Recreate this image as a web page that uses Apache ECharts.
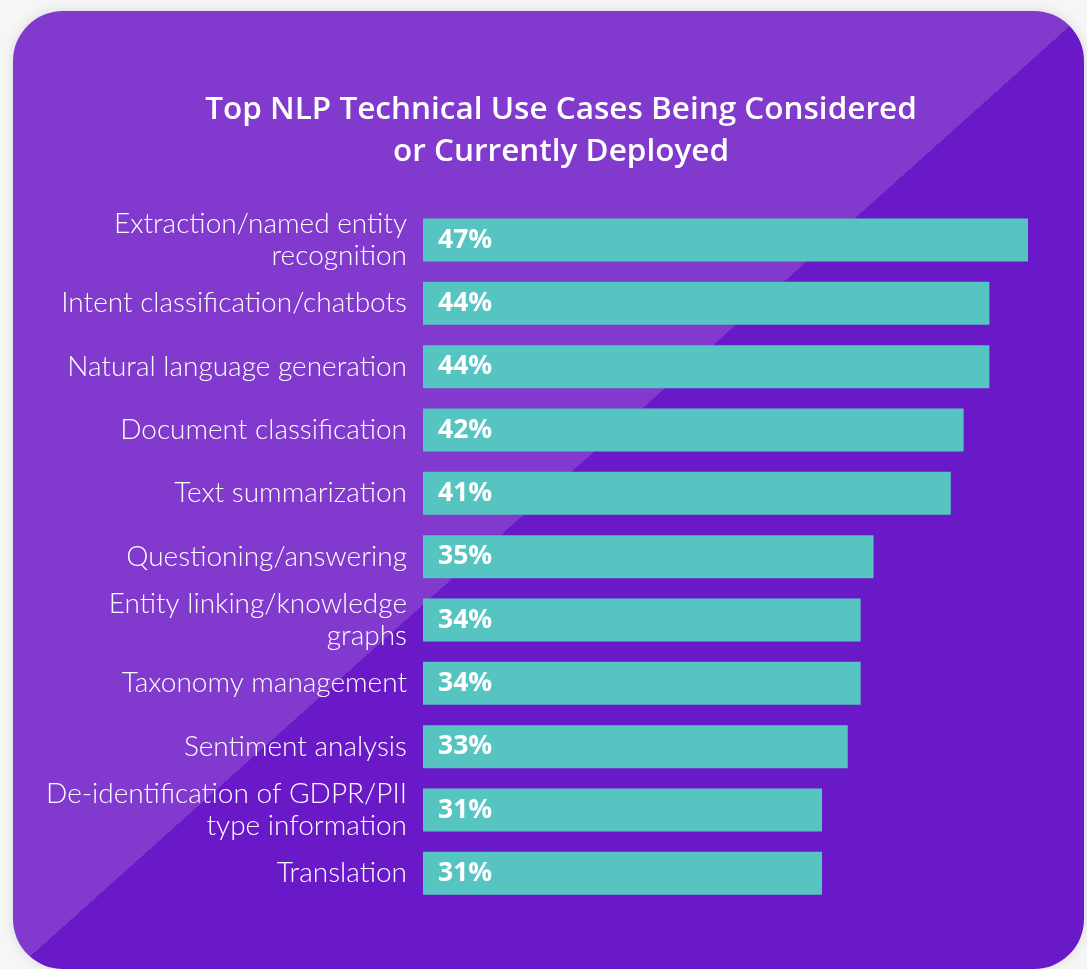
<!DOCTYPE html>
<html><head><meta charset="utf-8">
<script src="https://cdn.jsdelivr.net/npm/echarts@6/dist/echarts.min.js"></script>
<style>html,body{margin:0;padding:0;background:#f6f6f6;}#c{width:1087px;height:969px;}</style>
</head><body><div id="c"></div>
<script>
const categories = [
  "Extraction/named entity\nrecognition",
  "Intent classification/chatbots",
  "Natural language generation",
  "Document classification",
  "Text summarization",
  "Questioning/answering",
  "Entity linking/knowledge\ngraphs",
  "Taxonomy management",
  "Sentiment analysis",
  "De-identification of GDPR/PII\ntype information",
  "Translation"
];
const values = [47, 44, 44, 42, 41, 35, 34, 34, 33, 31, 31];
const titleLines = ["Top NLP Technical Use Cases Being Considered", "or Currently Deployed"];

const chart = echarts.init(document.getElementById('c'), null, {renderer: 'canvas'});
const FONT = 'Lato, "Open Sans", sans-serif';
const BFONT = '"Open Sans", Lato, sans-serif';
const bg = new echarts.graphic.LinearGradient(149, 45, 949, 939, [
  {offset: 0, color: '#8139CE'}, {offset: 0.5, color: '#8139CE'},
  {offset: 0.5, color: '#6A19C8'}, {offset: 1, color: '#6A19C8'}
], true);
chart.setOption({
  backgroundColor: '#f6f6f6',
  animation: false,
  graphic: [{
    type: 'rect', z: -10, silent: true,
    shape: {x: 13, y: 11, width: 1071, height: 958, r: 50},
    style: {fill: bg, shadowBlur: 12, shadowColor: 'rgba(0,0,0,0.12)'}
  }],
  title: {
    text: titleLines.join('\n'),
    left: 556, top: 84, textAlign: 'center',
    textStyle: {color: '#fff', fontFamily: BFONT, fontWeight: 600, fontSize: 31.5, lineHeight: 42}
  },
  grid: {left: 423, right: 20.4, top: 208.3, bottom: 64, containLabel: false},
  xAxis: {type: 'value', min: 0, max: 50, show: false},
  yAxis: {
    type: 'category', inverse: true, data: categories,
    axisLine: {show: false}, axisTick: {show: false},
    axisLabel: {color: '#fff', fontFamily: FONT, fontWeight: 300, fontSize: 28, lineHeight: 32, margin: 16, align: 'right'}
  },
  series: [{
    type: 'bar', data: values, barWidth: 43,
    itemStyle: {color: '#56C4C0'},
    label: {show: true, position: 'insideLeft', distance: 15, formatter: '{c}%',
      color: '#fff', fontFamily: BFONT, fontWeight: 'bold', fontSize: 26.5}
  }]
});
</script></body></html>
